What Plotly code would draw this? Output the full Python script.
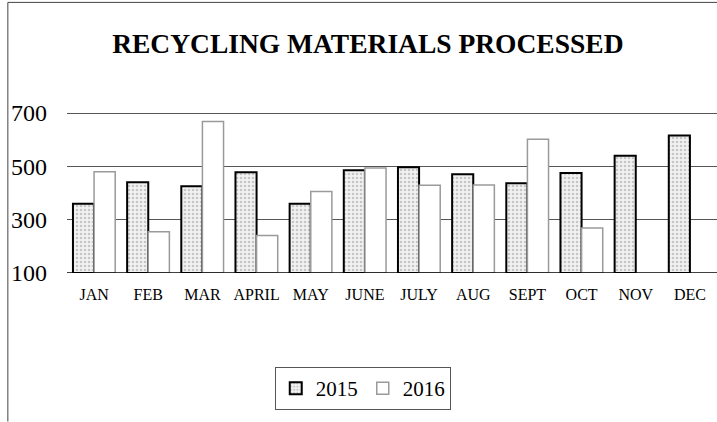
import plotly.graph_objects as go

months = ["JAN", "FEB", "MAR", "APRIL", "MAY", "JUNE", "JULY", "AUG", "SEPT", "OCT", "NOV", "DEC"]
vals_2015 = [360, 440, 425, 478, 360, 485, 497, 470, 437, 475, 540, 616]
vals_2016 = [480, 255, 668, 241, 406, 494, 429, 430, 602, 269, None, None]
tick_vals = [100, 300, 500, 700]

SERIF = "Liberation Serif, Times New Roman, serif"

fig = go.Figure()
fig.add_trace(go.Bar(
    x=months, y=[v - 100 for v in vals_2015], base=100, name="2015",
    marker=dict(color="white", line=dict(color="black", width=2),
                pattern=dict(shape=".", fgcolor="#9a9a9a", bgcolor="#f2f2f2", size=4, solidity=0.35)),
))
fig.add_trace(go.Bar(
    x=months, y=[(v - 100) if v is not None else None for v in vals_2016], base=100, name="2016",
    marker=dict(color="white", line=dict(color="#9a9a9a", width=1.5)),
))

fig.update_layout(
    width=717, height=422,
    paper_bgcolor="white", plot_bgcolor="white",
    margin=dict(l=67, r=0, t=108, b=149, autoexpand=False),
    barmode="group", bargap=0.22, bargroupgap=0,
    title=dict(text="<b>RECYCLING MATERIALS PROCESSED</b>", x=0.513, xanchor="center",
               y=0.898, yanchor="middle", font=dict(family=SERIF, size=27.5, color="black")),
    font=dict(family=SERIF, color="black"),
    showlegend=True,
    legend=dict(orientation="h", x=0.455, xanchor="center", y=-0.70, yanchor="middle",
                bordercolor="#555", borderwidth=1, font=dict(size=21, family=SERIF),
                itemwidth=30, bgcolor="white", tracegroupgap=0),
    xaxis=dict(showgrid=False, showline=False, ticks="", automargin=False, ticklabelstandoff=10,
               tickfont=dict(size=16, family=SERIF)),
    yaxis=dict(range=[100, 718.75], tickvals=tick_vals, showgrid=True, gridcolor="#555", gridwidth=1,
               zeroline=False, showline=False, ticks="", ticklabelstandoff=19, automargin=False,
               tickfont=dict(size=24, family=SERIF)),
    shapes=[
        dict(type="line", xref="paper", yref="y", x0=0, x1=1, y0=100, y1=100,
             line=dict(color="black", width=1.5)),
        dict(type="line", xref="paper", yref="paper", x0=-0.091, x1=-0.091, y0=1.64, y1=-0.9,
             line=dict(color="#444", width=1)),
        dict(type="line", xref="paper", yref="paper", x0=-0.091, x1=1.0, y0=1.64, y1=1.64,
             line=dict(color="#444", width=1)),
    ],
)

fig.write_html("out.html", config={"displayModeBar": False},
               post_script="document.body.style.margin='0';document.body.style.overflow='hidden';")
